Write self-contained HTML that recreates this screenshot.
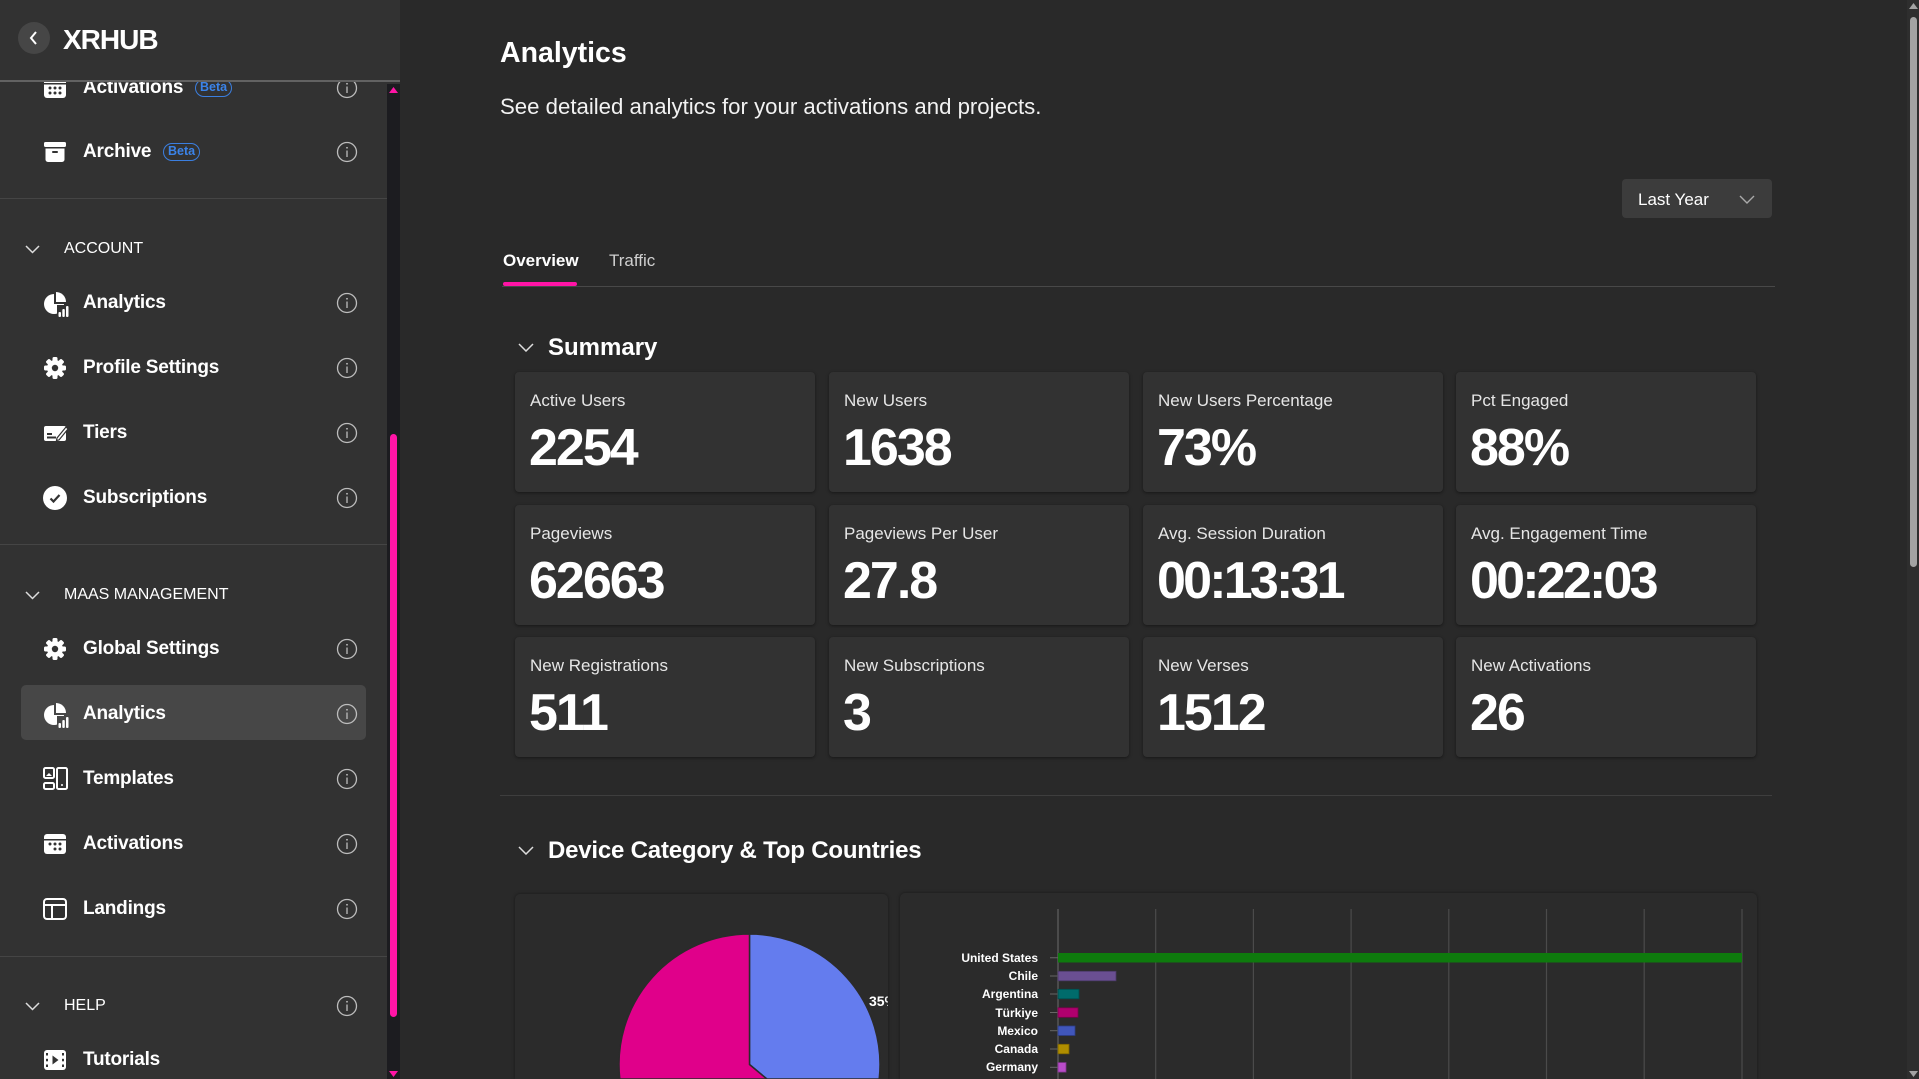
<!DOCTYPE html>
<html><head><meta charset="utf-8">
<style>
*{margin:0;padding:0;box-sizing:border-box}
html,body{width:1919px;height:1079px;overflow:hidden;background:#292929;font-family:"Liberation Sans",sans-serif;color:#fff}
body{position:relative}
.abs{position:absolute}
#side{position:absolute;left:0;top:0;width:400px;height:1079px;background:#323232;overflow:hidden}
#hdr{position:absolute;left:0;top:0;width:400px;height:82px;background:#323232;border-bottom:2px solid #626262;z-index:5}
.it{position:absolute;left:0;width:387px;height:30px}
.it .tx{position:absolute;left:83px;top:0;line-height:30px;font-size:19px;font-weight:bold;white-space:nowrap;letter-spacing:-0.2px}
.it svg.ic{position:absolute;left:43px;top:3px}
svg.info{position:absolute;left:336px;top:4px}
.sec{position:absolute;left:0;width:387px;height:30px}
.sec .tx{position:absolute;left:64px;line-height:30px;font-size:16px}
.sec svg.chev{position:absolute;left:25px;top:11px}
.div{position:absolute;left:0;width:387px;height:1px;background:#454545}
.beta{position:absolute;height:18px;border:1.5px solid #3b7fe0;border-radius:9px;color:#3b83e8;font-size:12.5px;line-height:15px;padding:0 4px;font-weight:bold}
.card{position:absolute;width:300px;height:120px;background:#323232;border-radius:4px;box-shadow:0 1px 3px rgba(0,0,0,.45)}
.card .lb{position:absolute;left:15px;top:20px;font-size:17px;line-height:17px;color:#e6e6e6;white-space:nowrap}
.card .vl{position:absolute;left:14px;top:50px;font-size:52px;line-height:52px;font-weight:bold;letter-spacing:-2px;white-space:nowrap}
.ccard{position:absolute;background:#2b2b2b;border-radius:5px 5px 0 0;box-shadow:0 0 3px rgba(0,0,0,.45);overflow:hidden}
.cl{position:absolute;right:0;font-size:12px;font-weight:bold;line-height:12px;white-space:nowrap;text-align:right}
</style></head><body>

<div id="side">
  <div id="hdr">
    <div class="abs" style="left:18px;top:22px;width:32px;height:32px;border-radius:50%;background:#464646"></div>
    <svg class="abs" style="left:28px;top:31px" width="12" height="14"><polyline points="8,1 3,7 8,13" fill="none" stroke="#fff" stroke-width="2"/></svg>
    <div class="abs" style="left:63px;top:22px;font-size:28px;line-height:36px;font-weight:bold;letter-spacing:-1px">XRHUB</div>
  </div>

  <!-- Activations (cut) -->
  <div class="it" style="top:73px">
    <svg class="ic" width="24" height="24" viewBox="0 0 24 24"><rect x="1" y="2" width="22" height="20" rx="3" fill="#fff"/><rect x="1" y="7" width="22" height="1.5" fill="#323232"/><g fill="#323232"><circle cx="7" cy="12" r="1.5"/><circle cx="12" cy="12" r="1.5"/><circle cx="17" cy="12" r="1.5"/><circle cx="7" cy="17" r="1.5"/><circle cx="12" cy="17" r="1.5"/><circle cx="17" cy="17" r="1.5"/></g></svg>
    <div class="tx">Activations</div>
    <div class="beta" style="left:195px;top:6px">Beta</div>
    <svg class="info" width="22" height="22"><circle cx="11" cy="11" r="9.5" fill="none" stroke="#bdbdbd" stroke-width="1.3"/><line x1="11" y1="9.5" x2="11" y2="16" stroke="#bdbdbd" stroke-width="1.3"/><circle cx="11" cy="6.8" r="0.9" fill="#bdbdbd"/></svg>
  </div>
  <div class="it" style="top:137px">
    <svg class="ic" width="24" height="24" viewBox="0 0 24 24"><rect x="1" y="2" width="22" height="5" rx="1.5" fill="#fff"/><path d="M2.5 8.5h19v11a2.5 2.5 0 0 1-2.5 2.5h-14a2.5 2.5 0 0 1-2.5-2.5z" fill="#fff"/><rect x="9" y="11" width="6" height="2" rx="1" fill="#323232"/></svg>
    <div class="tx">Archive</div>
    <div class="beta" style="left:163px;top:6px">Beta</div>
    <svg class="info" width="22" height="22"><circle cx="11" cy="11" r="9.5" fill="none" stroke="#bdbdbd" stroke-width="1.3"/><line x1="11" y1="9.5" x2="11" y2="16" stroke="#bdbdbd" stroke-width="1.3"/><circle cx="11" cy="6.8" r="0.9" fill="#bdbdbd"/></svg>
  </div>
  <div class="div" style="top:198px"></div>

  <div class="sec" style="top:234px"><svg class="chev" width="15" height="9"><polyline points="1,1 7.5,7.5 14,1" fill="none" stroke="#ddd" stroke-width="1.5"/></svg><div class="tx">ACCOUNT</div></div>

  <div class="it" style="top:288px">
    <svg class="ic" width="26" height="26" viewBox="0 0 26 26"><path d="M11 3A10 10 0 1 0 21 13L11 13Z" fill="#fff"/><path d="M13 1A10 10 0 0 1 23 11L13 11Z" fill="#fff"/><rect x="14" y="14" width="12" height="12" fill="#323232"/><rect x="15.5" y="21" width="2.5" height="5" rx="1" fill="#fff"/><rect x="19.3" y="18" width="2.5" height="8" rx="1" fill="#fff"/><rect x="23" y="15" width="2.5" height="11" rx="1" fill="#fff"/></svg>
    <div class="tx">Analytics</div>
    <svg class="info" width="22" height="22"><circle cx="11" cy="11" r="9.5" fill="none" stroke="#bdbdbd" stroke-width="1.3"/><line x1="11" y1="9.5" x2="11" y2="16" stroke="#bdbdbd" stroke-width="1.3"/><circle cx="11" cy="6.8" r="0.9" fill="#bdbdbd"/></svg>
  </div>
  <div class="it" style="top:353px">
    <svg class="ic" width="24" height="24" viewBox="0 0 24 24"><g fill="#fff"><circle cx="12" cy="12" r="8"/><rect x="9.5" y="1" width="5" height="22" rx="1.5"/><rect x="9.5" y="1" width="5" height="22" rx="1.5" transform="rotate(45 12 12)"/><rect x="9.5" y="1" width="5" height="22" rx="1.5" transform="rotate(90 12 12)"/><rect x="9.5" y="1" width="5" height="22" rx="1.5" transform="rotate(135 12 12)"/></g><circle cx="12" cy="12" r="3.2" fill="#323232"/></svg>
    <div class="tx">Profile Settings</div>
    <svg class="info" width="22" height="22"><circle cx="11" cy="11" r="9.5" fill="none" stroke="#bdbdbd" stroke-width="1.3"/><line x1="11" y1="9.5" x2="11" y2="16" stroke="#bdbdbd" stroke-width="1.3"/><circle cx="11" cy="6.8" r="0.9" fill="#bdbdbd"/></svg>
  </div>
  <div class="it" style="top:418px">
    <svg class="ic" width="26" height="24" viewBox="0 0 26 24"><rect x="1" y="5" width="22" height="15" rx="2" fill="#fff"/><rect x="4" y="12" width="5" height="2" fill="#323232"/><rect x="4" y="15.5" width="9" height="2" fill="#323232"/><path d="M14 17L23 6L25 8L16 19L13.5 19.5Z" fill="#fff" stroke="#323232" stroke-width="1.2"/></svg>
    <div class="tx">Tiers</div>
    <svg class="info" width="22" height="22"><circle cx="11" cy="11" r="9.5" fill="none" stroke="#bdbdbd" stroke-width="1.3"/><line x1="11" y1="9.5" x2="11" y2="16" stroke="#bdbdbd" stroke-width="1.3"/><circle cx="11" cy="6.8" r="0.9" fill="#bdbdbd"/></svg>
  </div>
  <div class="it" style="top:483px">
    <svg class="ic" width="24" height="24" viewBox="0 0 24 24"><circle cx="12" cy="12" r="12" fill="#fff"/><polyline points="7.5,12.5 10.5,15.5 16.5,9" fill="none" stroke="#323232" stroke-width="2.2"/></svg>
    <div class="tx">Subscriptions</div>
    <svg class="info" width="22" height="22"><circle cx="11" cy="11" r="9.5" fill="none" stroke="#bdbdbd" stroke-width="1.3"/><line x1="11" y1="9.5" x2="11" y2="16" stroke="#bdbdbd" stroke-width="1.3"/><circle cx="11" cy="6.8" r="0.9" fill="#bdbdbd"/></svg>
  </div>
  <div class="div" style="top:544px"></div>

  <div class="sec" style="top:580px"><svg class="chev" width="15" height="9"><polyline points="1,1 7.5,7.5 14,1" fill="none" stroke="#ddd" stroke-width="1.5"/></svg><div class="tx">MAAS MANAGEMENT</div></div>

  <div class="it" style="top:634px">
    <svg class="ic" width="24" height="24" viewBox="0 0 24 24"><g fill="#fff"><circle cx="12" cy="12" r="8"/><rect x="9.5" y="1" width="5" height="22" rx="1.5"/><rect x="9.5" y="1" width="5" height="22" rx="1.5" transform="rotate(45 12 12)"/><rect x="9.5" y="1" width="5" height="22" rx="1.5" transform="rotate(90 12 12)"/><rect x="9.5" y="1" width="5" height="22" rx="1.5" transform="rotate(135 12 12)"/></g><circle cx="12" cy="12" r="3.2" fill="#323232"/></svg>
    <div class="tx">Global Settings</div>
    <svg class="info" width="22" height="22"><circle cx="11" cy="11" r="9.5" fill="none" stroke="#bdbdbd" stroke-width="1.3"/><line x1="11" y1="9.5" x2="11" y2="16" stroke="#bdbdbd" stroke-width="1.3"/><circle cx="11" cy="6.8" r="0.9" fill="#bdbdbd"/></svg>
  </div>

  <div class="abs" style="left:21px;top:685px;width:345px;height:55px;background:#474747;border-radius:5px"></div>
  <div class="it" style="top:699px">
    <svg class="ic" width="26" height="26" viewBox="0 0 26 26"><path d="M11 3A10 10 0 1 0 21 13L11 13Z" fill="#fff"/><path d="M13 1A10 10 0 0 1 23 11L13 11Z" fill="#fff"/><rect x="14" y="14" width="12" height="12" fill="#474747"/><rect x="15.5" y="21" width="2.5" height="5" rx="1" fill="#fff"/><rect x="19.3" y="18" width="2.5" height="8" rx="1" fill="#fff"/><rect x="23" y="15" width="2.5" height="11" rx="1" fill="#fff"/></svg>
    <div class="tx">Analytics</div>
    <svg class="info" width="22" height="22"><circle cx="11" cy="11" r="9.5" fill="none" stroke="#bdbdbd" stroke-width="1.3"/><line x1="11" y1="9.5" x2="11" y2="16" stroke="#bdbdbd" stroke-width="1.3"/><circle cx="11" cy="6.8" r="0.9" fill="#bdbdbd"/></svg>
  </div>
  <div class="it" style="top:764px">
    <svg class="ic" width="26" height="24" viewBox="0 0 26 24"><g fill="none" stroke="#fff" stroke-width="2"><rect x="1" y="1" width="10" height="10" rx="1.5"/><rect x="1" y="16" width="10" height="6" rx="1.5"/><rect x="14" y="1" width="10" height="21" rx="1.5"/></g><circle cx="19" cy="18" r="1" fill="#fff"/><path d="M3 9l3-3 3 3z" fill="#fff"/></svg>
    <div class="tx">Templates</div>
    <svg class="info" width="22" height="22"><circle cx="11" cy="11" r="9.5" fill="none" stroke="#bdbdbd" stroke-width="1.3"/><line x1="11" y1="9.5" x2="11" y2="16" stroke="#bdbdbd" stroke-width="1.3"/><circle cx="11" cy="6.8" r="0.9" fill="#bdbdbd"/></svg>
  </div>
  <div class="it" style="top:829px">
    <svg class="ic" width="24" height="24" viewBox="0 0 24 24"><rect x="1" y="2" width="22" height="20" rx="3" fill="#fff"/><rect x="1" y="7" width="22" height="1.5" fill="#323232"/><g fill="#323232"><circle cx="7" cy="12" r="1.5"/><circle cx="12" cy="12" r="1.5"/><circle cx="17" cy="12" r="1.5"/><circle cx="12" cy="17" r="1.5"/><circle cx="17" cy="17" r="1.5"/></g></svg>
    <div class="tx">Activations</div>
    <svg class="info" width="22" height="22"><circle cx="11" cy="11" r="9.5" fill="none" stroke="#bdbdbd" stroke-width="1.3"/><line x1="11" y1="9.5" x2="11" y2="16" stroke="#bdbdbd" stroke-width="1.3"/><circle cx="11" cy="6.8" r="0.9" fill="#bdbdbd"/></svg>
  </div>
  <div class="it" style="top:894px">
    <svg class="ic" width="24" height="24" viewBox="0 0 24 24"><g fill="none" stroke="#fff" stroke-width="2"><rect x="1" y="2" width="22" height="20" rx="3"/><line x1="9" y1="8" x2="9" y2="22"/><line x1="1" y1="8" x2="23" y2="8"/></g></svg>
    <div class="tx">Landings</div>
    <svg class="info" width="22" height="22"><circle cx="11" cy="11" r="9.5" fill="none" stroke="#bdbdbd" stroke-width="1.3"/><line x1="11" y1="9.5" x2="11" y2="16" stroke="#bdbdbd" stroke-width="1.3"/><circle cx="11" cy="6.8" r="0.9" fill="#bdbdbd"/></svg>
  </div>
  <div class="div" style="top:956px"></div>

  <div class="sec" style="top:991px"><svg class="chev" width="15" height="9"><polyline points="1,1 7.5,7.5 14,1" fill="none" stroke="#ddd" stroke-width="1.5"/></svg><div class="tx">HELP</div>
    <svg class="info" width="22" height="22"><circle cx="11" cy="11" r="9.5" fill="none" stroke="#bdbdbd" stroke-width="1.3"/><line x1="11" y1="9.5" x2="11" y2="16" stroke="#bdbdbd" stroke-width="1.3"/><circle cx="11" cy="6.8" r="0.9" fill="#bdbdbd"/></svg>
  </div>
  <div class="it" style="top:1045px">
    <svg class="ic" width="24" height="24" viewBox="0 0 24 24"><rect x="1" y="2" width="22" height="20" rx="3" fill="#fff"/><g fill="#323232"><rect x="3" y="5" width="2" height="2.5"/><rect x="3" y="10.8" width="2" height="2.5"/><rect x="3" y="16.5" width="2" height="2.5"/><rect x="19" y="5" width="2" height="2.5"/><rect x="19" y="10.8" width="2" height="2.5"/><rect x="19" y="16.5" width="2" height="2.5"/><path d="M9.5 7.5L15.5 12L9.5 16.5Z"/></g></svg>
    <div class="tx">Tutorials</div>
  </div>

  <!-- sidebar scrollbar -->
  <div class="abs" style="left:387px;top:84px;width:13px;height:995px;background:#1c1c20"></div>
  <svg class="abs" style="left:388px;top:86px" width="11" height="8"><path d="M5.5 1L10 7H1Z" fill="#ff14a6"/></svg>
  <div class="abs" style="left:390px;top:434px;width:7px;height:583px;background:#ff14a6;border-radius:4px"></div>
  <svg class="abs" style="left:388px;top:1070px" width="11" height="8"><path d="M1 1H10L5.5 7Z" fill="#ff14a6"/></svg>
</div>

<!-- main -->
<div class="abs" style="left:500px;top:38px;font-size:28.5px;line-height:30px;font-weight:bold">Analytics</div>
<div class="abs" style="left:500px;top:95px;font-size:22.2px;line-height:24px;color:#f2f2f2">See detailed analytics for your activations and projects.</div>

<div class="abs" style="left:1622px;top:179px;width:150px;height:39px;background:#3c3c3c;border-radius:4px"></div>
<div class="abs" style="left:1638px;top:190px;font-size:17px;line-height:20px">Last Year</div>
<svg class="abs" style="left:1739px;top:195px" width="16" height="9"><polyline points="1,1 8,8 15,1" fill="none" stroke="#aaa" stroke-width="1.4"/></svg>

<div class="abs" style="left:503px;top:251px;font-size:17px;line-height:20px;font-weight:bold">Overview</div>
<div class="abs" style="left:609px;top:251px;font-size:17px;line-height:20px;color:#cfcfcf">Traffic</div>
<div class="abs" style="left:502px;top:286px;width:1273px;height:1px;background:#484848"></div>
<div class="abs" style="left:503px;top:282px;width:74px;height:4px;background:#ff14a6;border-radius:2px"></div>

<svg class="abs" style="left:518px;top:343px" width="16" height="9"><polyline points="1,1 8,8 15,1" fill="none" stroke="#ddd" stroke-width="1.5"/></svg>
<div class="abs" style="left:548px;top:335px;font-size:24px;line-height:26px;font-weight:bold">Summary</div>

<div class="card" style="left:515px;top:372px"><div class="lb">Active Users</div><div class="vl">2254</div></div>
<div class="card" style="left:829px;top:372px"><div class="lb">New Users</div><div class="vl">1638</div></div>
<div class="card" style="left:1143px;top:372px"><div class="lb">New Users Percentage</div><div class="vl">73%</div></div>
<div class="card" style="left:1456px;top:372px"><div class="lb">Pct Engaged</div><div class="vl">88%</div></div>

<div class="card" style="left:515px;top:505px"><div class="lb">Pageviews</div><div class="vl">62663</div></div>
<div class="card" style="left:829px;top:505px"><div class="lb">Pageviews Per User</div><div class="vl">27.8</div></div>
<div class="card" style="left:1143px;top:505px"><div class="lb">Avg. Session Duration</div><div class="vl" style="letter-spacing:-2.8px">00:13:31</div></div>
<div class="card" style="left:1456px;top:505px"><div class="lb">Avg. Engagement Time</div><div class="vl" style="letter-spacing:-2.8px">00:22:03</div></div>

<div class="card" style="left:515px;top:637px"><div class="lb">New Registrations</div><div class="vl">511</div></div>
<div class="card" style="left:829px;top:637px"><div class="lb">New Subscriptions</div><div class="vl">3</div></div>
<div class="card" style="left:1143px;top:637px"><div class="lb">New Verses</div><div class="vl">1512</div></div>
<div class="card" style="left:1456px;top:637px"><div class="lb">New Activations</div><div class="vl">26</div></div>

<div class="abs" style="left:500px;top:795px;width:1272px;height:1px;background:#3e3e3e"></div>

<svg class="abs" style="left:518px;top:846px" width="16" height="9"><polyline points="1,1 8,8 15,1" fill="none" stroke="#ddd" stroke-width="1.5"/></svg>
<div class="abs" style="left:548px;top:838px;font-size:24px;line-height:26px;font-weight:bold;letter-spacing:-0.2px">Device Category &amp; Top Countries</div>

<!-- pie card -->
<div class="ccard" style="left:515px;top:894px;width:373px;height:185px">
  <svg class="abs" style="left:0;top:0" width="373" height="185">
    <path d="M234.5 170.5L234.5 40A130.5 130.5 0 0 1 364.2 185L251.9 185Z" fill="#647cee" stroke="#2b2b2b" stroke-width="1.5"/>
    <path d="M234.5 170.5L251.9 185L104.8 185A130.5 130.5 0 0 1 234.5 40Z" fill="#e0008a" stroke="#2b2b2b" stroke-width="1.5"/>
    <rect x="100" y="184" width="270" height="1" fill="#e0008a" opacity="0"/>
  </svg>
  <div class="abs" style="left:354px;top:100px;width:19px;height:16px;overflow:hidden"><div style="font-size:14px;line-height:14px;font-weight:bold;white-space:nowrap">35%</div></div>
</div>

<!-- bar card -->
<div class="ccard" style="left:900px;top:893px;width:857px;height:186px">
  <svg class="abs" style="left:0;top:0" width="857" height="186">
    <g stroke="#4b4b4b" stroke-width="1.2">
      <line x1="158" y1="16" x2="158" y2="186" stroke-width="2"/>
      <line x1="255.7" y1="16" x2="255.7" y2="186"/>
      <line x1="353.4" y1="16" x2="353.4" y2="186"/>
      <line x1="451.1" y1="16" x2="451.1" y2="186"/>
      <line x1="548.8" y1="16" x2="548.8" y2="186"/>
      <line x1="646.5" y1="16" x2="646.5" y2="186"/>
      <line x1="744.2" y1="16" x2="744.2" y2="186"/>
      <line x1="842" y1="16" x2="842" y2="186"/>
    </g>
    <g stroke="#666" stroke-width="1">
      <line x1="150" y1="64.7" x2="158" y2="64.7"/>
      <line x1="150" y1="83" x2="158" y2="83"/>
      <line x1="150" y1="101" x2="158" y2="101"/>
      <line x1="150" y1="119.5" x2="158" y2="119.5"/>
      <line x1="150" y1="137.7" x2="158" y2="137.7"/>
      <line x1="150" y1="156" x2="158" y2="156"/>
      <line x1="150" y1="174.3" x2="158" y2="174.3"/>
    </g>
    <rect x="158" y="60" width="684" height="9.5" fill="#0e7a0d"/>
    <rect x="158" y="78.3" width="58" height="9.5" fill="#6a4f92" stroke="#4a3a66" stroke-width="0.8"/>
    <rect x="158" y="96.3" width="21" height="9.5" fill="#006b6b" stroke="#004d4d" stroke-width="0.8"/>
    <rect x="158" y="114.8" width="20" height="9.5" fill="#b0006e" stroke="#7c004d" stroke-width="0.8"/>
    <rect x="158" y="133" width="17" height="9.5" fill="#4056bb" stroke="#2c3d86" stroke-width="0.8"/>
    <rect x="158" y="151.3" width="11" height="9.5" fill="#b08e00" stroke="#7c6400" stroke-width="0.8"/>
    <rect x="158" y="169.6" width="8" height="9.5" fill="#b84cc8" stroke="#82358e" stroke-width="0.8"/>
  </svg>
  <div class="abs" style="left:0;top:0;width:138px;height:186px">
    <div class="cl" style="top:59px">United States</div>
    <div class="cl" style="top:77px">Chile</div>
    <div class="cl" style="top:95px">Argentina</div>
    <div class="cl" style="top:113.5px">Türkiye</div>
    <div class="cl" style="top:131.7px">Mexico</div>
    <div class="cl" style="top:150px">Canada</div>
    <div class="cl" style="top:168.3px">Germany</div>
  </div>
</div>

<!-- main scrollbar -->
<div class="abs" style="left:1907px;top:0;width:12px;height:1079px;background:#2e2e2e"></div>
<svg class="abs" style="left:1908px;top:2px" width="11" height="8"><path d="M5.5 1L10 7H1Z" fill="#a3a3a3"/></svg>
<div class="abs" style="left:1910px;top:17px;width:7px;height:550px;background:#a3a3a3;border-radius:4px"></div>
<svg class="abs" style="left:1908px;top:1070px" width="11" height="8"><path d="M1 1H10L5.5 7Z" fill="#a3a3a3"/></svg>

</body></html>
